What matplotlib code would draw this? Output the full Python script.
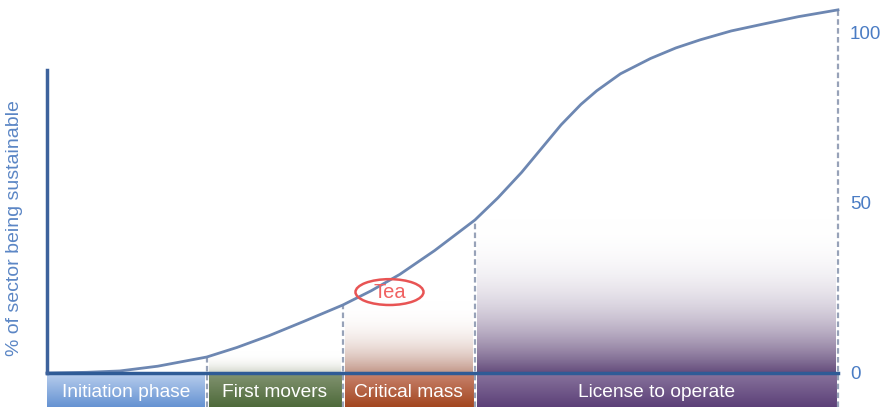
import numpy as np
import matplotlib.pyplot as plt
from matplotlib.colors import to_rgb
from matplotlib.patches import Ellipse

plt.rcParams['font.family'] = ['Liberation Sans', 'DejaVu Sans']

# time (0-100) vs % of sector being sustainable
t = [0, 5, 9.2, 14, 20.2, 24, 28.1, 32.5, 37.4, 41, 44.6, 49, 54.1, 57,
     60, 62.5, 65, 67.5, 69.5, 72.5, 76.3, 79.5, 82.6, 86.5, 90.3, 95, 100]
share = [0, 0.2, 0.6, 2.0, 4.7, 7.5, 11, 15.2, 20, 24.2, 29, 36, 45, 51.5,
         59, 66, 73, 79, 83, 88, 92.5, 95.6, 98, 100.6, 102.5, 104.8, 106.8]

phases = ['Initiation phase', 'First movers', 'Critical mass', 'License to operate']
phase_start = [0, 20.2, 37.4, 54.1]
phase_end = [20.2, 37.4, 54.1, 100]
phase_top = ['#b4cbec', '#7f916e', '#c6806a', '#85709a']
phase_bot = ['#6592d2', '#4e6a3a', '#a3461f', '#5c4078']
ticks = [0, 50, 100]

fig = plt.figure(figsize=(8.86, 4.12), dpi=100)
ax = fig.add_axes([0, 0, 1, 1])
ax.set_xlim(-5.94, 106.07)
ax.set_ylim(-11.47, 109.7)
ax.axis('off')


def gradient(x0, x1, y0, y1, top, bottom, fade=None):
    n = 100
    a = np.linspace(0, 1, n)[:, None]  # 0 at bottom, 1 at top
    c0, c1 = np.array(to_rgb(bottom)), np.array(to_rgb(top))
    img = np.zeros((n, 1, 4))
    img[:, 0, :3] = c0 + (c1 - c0) * a
    img[:, 0, 3] = 1 if fade is None else fade * (1 - a[:, 0]) ** 1.6
    ax.imshow(img, extent=(x0, x1, y0, y1), origin='lower', aspect='auto',
              interpolation='bicubic', zorder=1)


# faded area over the last three phases
fade_col = ['#aab39c', '#a86a55', '#5e4476']
fade_amt = [0.55, 0.7, 0.95]
for i in range(1, 4):
    top_v = np.interp(phase_start[i], t, share) + 2
    gradient(phase_start[i] + 0.3, phase_end[i] - 0.3, 0, top_v,
             '#ffffff', fade_col[i - 1], fade=fade_amt[i - 1])

# phase boxes below the axis
gap = 0.25
for i, name in enumerate(phases):
    x0 = phase_start[i] + (gap if i > 0 else 0)
    x1 = phase_end[i] - (gap if i < 3 else 0.2)
    gradient(x0, x1, -10, -0.6, phase_top[i], phase_bot[i])
    ax.text((x0 + x1) / 2, -5.6, name, color='white', fontsize=13.8,
            ha='center', va='center', zorder=5)

# dashed dividers
for x in phase_start[1:] + [100]:
    ax.plot([x, x], [-10, np.interp(x, t, share)], color='#97a2b8',
            lw=1.6, ls=(0, (2.5, 1.5)), zorder=3)

ax.plot(t, share, color='#6d87b2', lw=2, zorder=4)
ax.plot([0, 100], [0, 0], color='#2f5b96', lw=2.5, zorder=4)
ax.plot([0, 0], [0, 89], color='#3d629c', lw=2.5, zorder=4)

for v in ticks:
    ax.text(101.5, v - 0.3, str(v), color='#4a7cc4', fontsize=13.5, va='center', zorder=5)

ax.text(-4.1, 42.6, '% of sector being sustainable', color='#5b86c5', fontsize=14,
        rotation=90, ha='center', va='center')

ax.add_patch(Ellipse((43.3, 23.8), 8.6, 7.6, fill=False, ec='#e85454', lw=1.8, zorder=5))
ax.text(43.3, 23.6, 'Tea', color='#f06262', fontsize=14.5, ha='center', va='center', zorder=6)

fig.savefig('out.png', dpi=100)
